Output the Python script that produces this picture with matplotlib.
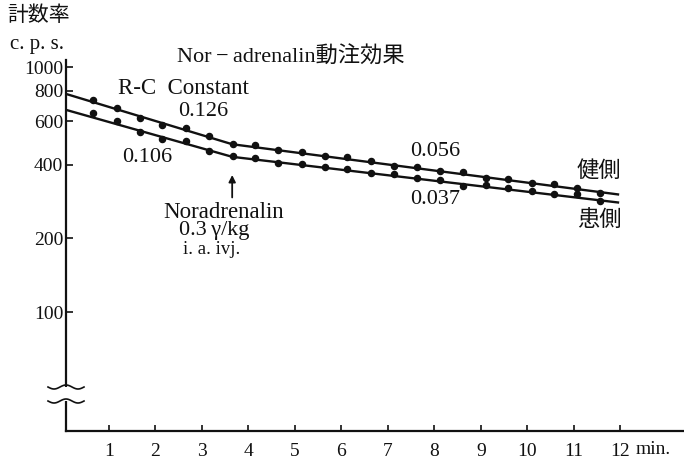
import numpy as np
import matplotlib
matplotlib.use("Agg")
import matplotlib.pyplot as plt
from matplotlib.patches import Rectangle

# count rate (c.p.s.) after intra-arterial noradrenalin, read every ~0.5 min
t_dots = [0.66, 1.18, 1.67, 2.15, 2.66, 3.16, 3.66, 4.15, 4.64, 5.16, 5.65, 6.12,
          6.63, 7.13, 7.62, 8.12, 8.61, 9.10, 9.59, 10.09, 10.58, 11.06, 11.56]
healthy_dots = [733, 682, 621, 578, 562, 524, 484, 479, 458, 451, 435, 429,
                415, 396, 390, 376, 372, 351, 349, 337, 333, 320, 307]
affected_dots = [647, 602, 544, 510, 500, 455, 435, 426, 407, 401, 389, 385,
                 370, 366, 351, 346, 327, 330, 322, 313, 303, 303, 285]

# fitted two-segment decay lines (break at the injection)
t_fit = [0.08, 3.65, 11.95]
healthy_fit = [776, 484, 302]
affected_fit = [668, 430, 280]

x_ticks = [1, 2, 3, 4, 5, 6, 7, 8, 9, 10, 11, 12]
y_ticks = [100, 200, 400, 600, 800, 1000]

W, H = 684, 462
SERIF = ['Liberation Serif', 'Noto Sans CJK JP']
INK = '#111111'

plt.rcParams['font.family'] = SERIF

fig = plt.figure(figsize=(W / 100, H / 100), dpi=100)
fig.patch.set_facecolor('white')

# axes box in pixels: left 66, right 684, top 60, bottom 431
ax = fig.add_axes([66 / W, (H - 431) / H, (684 - 66) / W, (431 - 60) / H])
ax.set_yscale('log')
ax.set_xlim(0.075, 13.37)
ax.set_ylim(32.7, 1068)

ax.plot(t_fit, healthy_fit, color=INK, lw=1.7, zorder=3)
ax.plot(t_fit, affected_fit, color=INK, lw=1.7, zorder=3)
ax.plot(t_dots, healthy_dots, 'o', color=INK, ms=4.4, zorder=4)
ax.plot(t_dots, affected_dots, 'o', color=INK, ms=4.4, zorder=4)

for s in ('top', 'right'):
    ax.spines[s].set_visible(False)
for s in ('left', 'bottom'):
    ax.spines[s].set_linewidth(1.6)
    ax.spines[s].set_color(INK)

ax.set_xticks(x_ticks)
ax.set_xticklabels([str(v) for v in x_ticks])
ax.set_yticks(y_ticks)
ax.set_yticklabels([str(v) for v in y_ticks])
ax.minorticks_off()
ax.tick_params(axis='x', direction='in', length=4, width=1.2, pad=9,
               labelsize=14, colors=INK)
ax.tick_params(axis='y', direction='in', length=5, width=1.2, pad=2,
               labelsize=14, colors=INK)

# broken y axis: white gap plus two wavy marks
def fy(py):
    return 1 - py / H

fig.patches.append(Rectangle((62 / W, fy(401)), 8 / W, 14 / H,
                             transform=fig.transFigure, facecolor='white',
                             edgecolor='none', zorder=5))
wx = np.linspace(48, 84, 60)
for py in (387, 401):
    wy = py + 2.0 * np.sin((wx - 48) / 36 * 3 * np.pi)
    fig.add_artist(plt.Line2D(wx / W, fy(wy), transform=fig.transFigure,
                              color=INK, lw=1.2, zorder=6))

# injection marker
ax.annotate('', xy=(3.65, 372), xytext=(3.65, 286),
            arrowprops=dict(arrowstyle='-|>', color=INK, lw=1.3,
                            mutation_scale=10))

def label(px, py, s, size, ha='left'):
    fig.text(px / W, fy(py), s, fontsize=size, ha=ha, va='center',
             color=INK, family=SERIF)

label(7, 16, '計数率', 15)
label(10, 44, 'c. p. s.', 15)
label(177, 57, 'Nor\u2009\u2212\u2009adrenalin動注効果', 16)
label(118, 88, 'R-C  Constant', 16.5)
label(178, 112, '0.126', 16)
label(122, 157, '0.106', 16)
label(410, 152, '0.056', 16)
label(410, 200, '0.037', 16)
label(577, 172, '健側', 16)
label(577, 220, '患側', 16)
label(224, 212, 'Noradrenalin', 16.5, ha='center')
label(214, 231, '0.3\u2009γ/kg', 16, ha='center')
label(212, 250, 'i. a. ivj.', 13.5, ha='center')
label(636, 450, 'min.', 14)

fig.savefig('out.png', dpi=100, facecolor='white')
